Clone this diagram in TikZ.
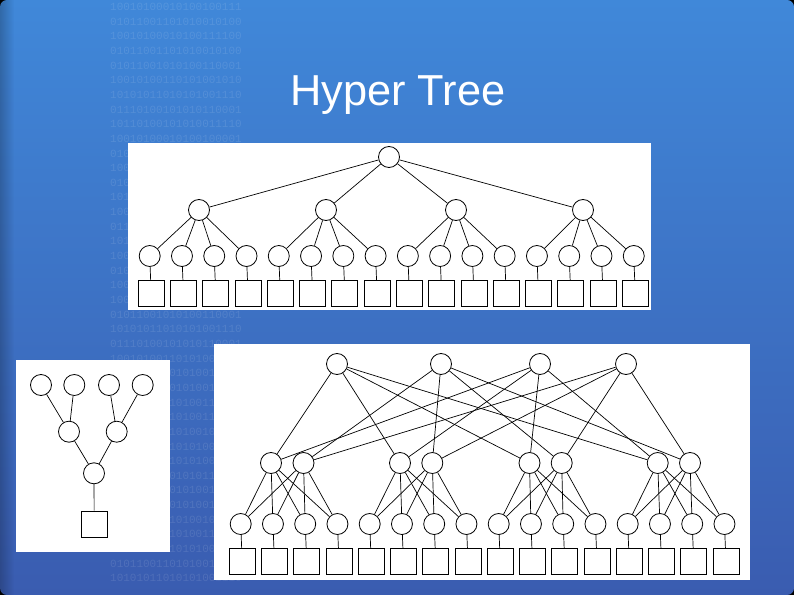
\documentclass[tikz,border=0pt]{standalone}
\usepackage{fontspec}
\setmainfont{Liberation Sans}
\newfontfamily\binfont{Liberation Mono}
\usetikzlibrary{fadings}
\definecolor{bgtop}{RGB}{64,136,217}
\definecolor{bgbot}{RGB}{58,92,176}
\begin{document}
\begin{tikzpicture}[x=1bp,y=-1bp,
  vtx/.style={circle,draw=black,line width=0.8bp,fill=white,minimum size=21bp,inner sep=0pt},
  leafbox/.style={rectangle,draw=black,line width=0.8bp,fill=white,minimum size=26bp,inner sep=0pt},
  link/.style={draw=black,line width=0.7bp},
  bintext/.style={anchor=north west,inner sep=0pt,text=white,opacity=0.11,font=\binfont\fontsize{11}{11}\selectfont}]
\useasboundingbox (0,0) rectangle (794,595);
% background
\fill[black] (0,0) rectangle (794,595);
\shade[top color=bgtop,bottom color=bgbot,rounded corners=7bp] (0,0) rectangle (794,595);
\fill[black,opacity=0.22,path fading=east] (0,0) rectangle (14,595);
% binary column
\foreach \s [count=\k from 0] in {
10010100010100100111,01011001101010010100,10010100010100111100,01011001101010010100,
01011001010100110001,10010100110101001010,10101011010101001110,01110100101010110001,
10110100101010011110,10010100010100100001,01011001101010010100,10010100110101001010,
01011001010100110001,10101011010101001110,10010100010100111100,01110100101010110001,
10110100101010011110,10010100010100100001,01011001101010010100,10010100110101001010,
10010100010100100111,01011001010100110001,10101011010101001110,01110100101010110001,
10010100110101001010,10110100101010011110,01011001101010010100,10010100010100111100,
01011001010100110001,10010100010100100001,10101011010101001110,10010100110101001010,
01110100101010110001,01011001101010010100,10110100101010011110,10010100010100100111,
01011001010100110001,10010100110101001010,01011001101010010100,10101011010101001110}
  \node[bintext] (bin\k) at (110,{3+14.65*\k}) {\s};
% title
\node[anchor=base west,inner sep=0pt,text=white,font=\fontsize{43.5}{43.5}\selectfont] (title) at (290,106) {Hyper Tree};
% panels
\fill[white] (128,143) rectangle (651,310);
\fill[white] (16,360) rectangle (170,552);
\fill[white] (214,344) rectangle (750,580);
% ---------- top tree ----------
\node[vtx] (r) at (389,157) {};
\foreach \x [count=\i] in {199,326,456,583} \node[vtx] (a\i) at (\x,210) {};
\foreach \i in {1,...,16} {
  \node[vtx] (b\i) at ({149.7+32.27*(\i-1)},256) {};
  \node[leafbox] (c\i) at ({151.2+32.27*(\i-1)},293.7) {};
}
\foreach \i in {1,...,4} \draw[link] (r) -- (a\i);
\foreach \i in {1,...,16} {
  \pgfmathtruncatemacro\p{(\i-1)/4+1}
  \draw[link] (a\p) -- (b\i);
  \draw[link] (b\i) -- (c\i);
}
% ---------- left tree ----------
\foreach \x [count=\i] in {41,74.3,109,142.7} \node[vtx] (p\i) at (\x,385) {};
\node[vtx] (q1) at (69,431.7) {};
\node[vtx] (q2) at (116.7,431.7) {};
\node[vtx] (o) at (94,473.3) {};
\node[leafbox,minimum size=26.5bp] (sq) at (94.2,524.3) {};
\draw[link] (p1) -- (q1);
\draw[link] (p2) -- (q1);
\draw[link] (p3) -- (q2);
\draw[link] (p4) -- (q2);
\draw[link] (q1) -- (o);
\draw[link] (q2) -- (o);
\draw[link] (o) -- (sq);
% ---------- hyper tree ----------
\foreach \x [count=\i] in {337,441,540,626} \node[vtx] (t\i) at (\x,364) {};
\foreach \x [count=\i] in {271,303.5,400,432.3,529.5,561.7,657.7,690} \node[vtx] (m\i) at (\x,463) {};
\foreach \i in {1,...,16} {
  \node[vtx] (d\i) at ({240.7+32.25*(\i-1)},524) {};
  \node[leafbox] (e\i) at ({242.2+32.25*(\i-1)},561.3) {};
}
\foreach \t in {1,3} \foreach \m in {1,3,5,7} \draw[link] (t\t) -- (m\m);
\foreach \t in {2,4} \foreach \m in {2,4,6,8} \draw[link] (t\t) -- (m\m);
\foreach \g in {1,...,4} {
  \pgfmathtruncatemacro\ma{2*\g-1}
  \pgfmathtruncatemacro\mb{2*\g}
  \foreach \j in {1,...,4} {
    \pgfmathtruncatemacro\dd{4*(\g-1)+\j}
    \draw[link] (m\ma) -- (d\dd);
    \draw[link] (m\mb) -- (d\dd);
  }
}
\foreach \i in {1,...,16} \draw[link] (d\i) -- (e\i);
\end{tikzpicture}
\end{document}
